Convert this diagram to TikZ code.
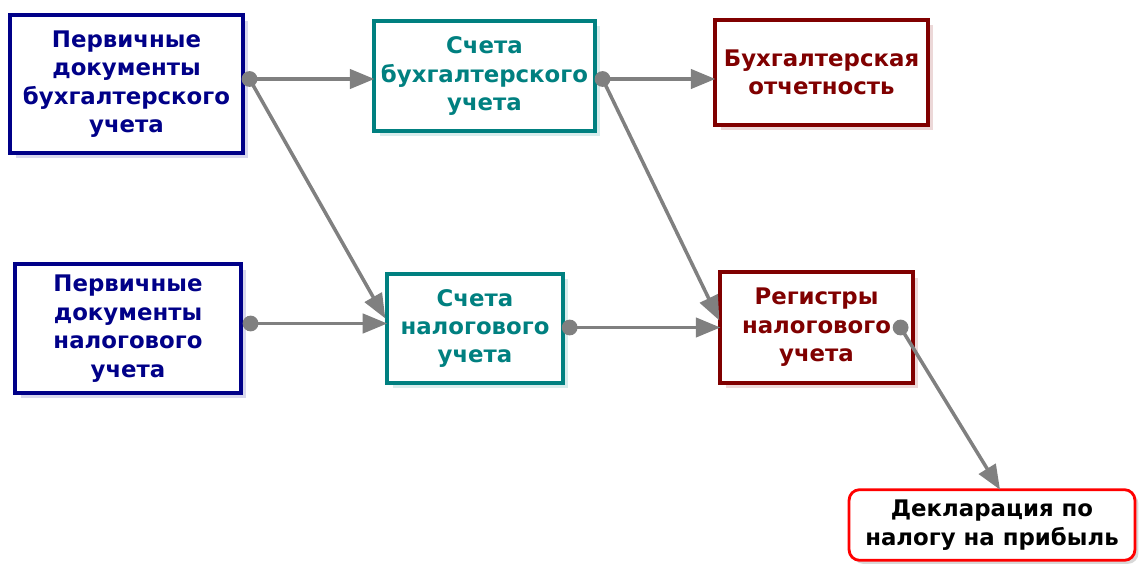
\documentclass[tikz,border=0pt]{standalone}
\usepackage{fontspec}
\setmainfont{DejaVu Sans}
\usetikzlibrary{arrows.meta,shadows,calc}

\definecolor{dokblau}{RGB}{0,0,136}
\definecolor{schettuerkis}{RGB}{0,128,128}
\definecolor{otchetrot}{RGB}{128,0,0}
\definecolor{pfeilgrau}{RGB}{128,128,128}

\begin{document}
\begin{tikzpicture}[x=0.02cm,y=-0.02cm,
      box/.style={rectangle, draw, fill=white, line width=2.3pt, inner sep=0pt, outer sep=0pt, align=center, font=\bfseries\fontsize{13}{16.2}\selectfont},
      doc/.style={box, draw=dokblau, text=dokblau, drop shadow={fill=dokblau!30, opacity=0.5, shadow xshift=3pt, shadow yshift=-3pt}},
      schet/.style={box, draw=schettuerkis, text=schettuerkis, drop shadow={fill=schettuerkis!30, opacity=0.5, shadow xshift=3pt, shadow yshift=-3pt}},
      otchet/.style={box, draw=otchetrot, text=otchetrot, drop shadow={fill=otchetrot!30, opacity=0.5, shadow xshift=3pt, shadow yshift=-3pt}},
      decl/.style={box, rounded corners=6pt, draw=red, line width=1.6pt, text=black, drop shadow={fill=black!30, opacity=0.5, shadow xshift=2pt, shadow yshift=-2pt}},
      strelka/.style={-{Triangle[length=14pt,width=11pt]}, line width=2pt, draw=pfeilgrau},
      punkt/.style={fill=pfeilgrau}]

\useasboundingbox (0,0) rectangle (1143,564);

\node[doc, minimum width=132.1pt, minimum height=78.2pt] (p1) at (126.5,84) {Первичные\\документы\\бухгалтерского\\учета};
\node[doc, minimum width=128.1pt, minimum height=73.1pt] (p2) at (128,328.5) {Первичные\\документы\\налогового\\учета};
\node[schet, minimum width=125.3pt, minimum height=62.4pt] (s1) at (484.5,76) {Счета\\бухгалтерского\\учета};
\node[schet, minimum width=99.8pt, minimum height=61.8pt] (s2) at (475,328.5) {Счета\\налогового\\учета};
\node[otchet, minimum width=120.8pt, minimum height=59.5pt] (b1) at (821.5,72.5) {Бухгалтерская\\отчетность};
\node[otchet, minimum width=109.4pt, minimum height=62.9pt] (r1) at (816.5,327.5) {Регистры\\налогового\\учета};
\node[decl, minimum width=162.7pt, minimum height=40.2pt] (d1) at (992,525) {Декларация по\\налогу на прибыль};

% Punkte
\coordinate (k1) at ($(p1.east)+(7,-5)$);
\coordinate (k2) at ($(p2.east)+(10,-5)$);
\coordinate (k3) at ($(s1.east)+(8,3)$);
\coordinate (k4) at ($(s2.east)+(7,-1)$);
\coordinate (k5) at ($(r1.east)+(-12,0)$);

\draw[strelka] (k1) -- (s1.west |- k1);
\draw[strelka] (k1) -- ($(s2.west)+(-2,-10)$);
\draw[strelka] (k2) -- (s2.west |- k2);
\draw[strelka] (k3) -- (b1.west |- k3);
\draw[strelka] (k3) -- ($(r1.west)+(-1,-7)$);
\draw[strelka] (k4) -- (r1.west |- k4);
\draw[strelka] (k5) -- ($(d1.north)+(8,0)$);

\foreach \k in {k1,k2,k3,k4,k5}
  \fill[punkt] (\k) circle (4.5pt);

\end{tikzpicture}
\end{document}
